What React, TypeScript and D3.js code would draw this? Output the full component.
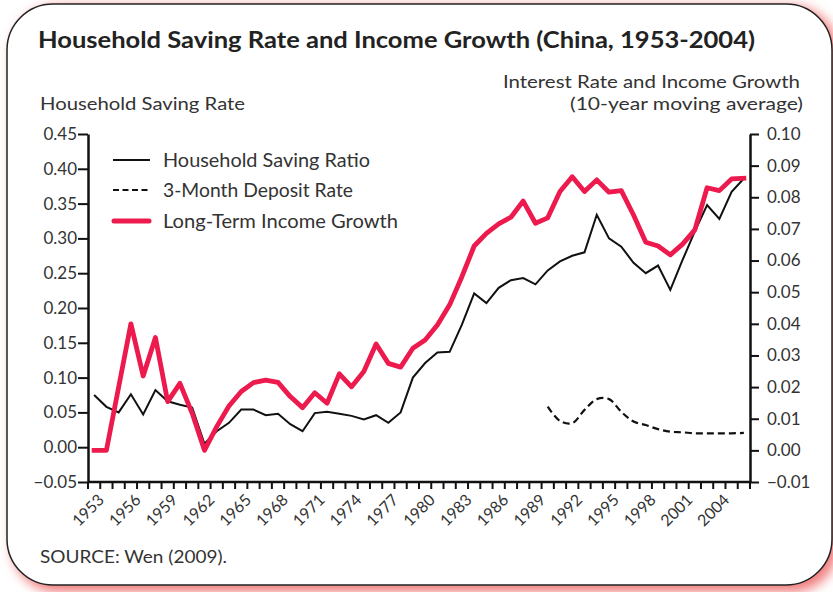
import React, { useEffect, useRef } from 'react';
import * as d3 from 'd3';

// years on the category axis
const years = d3.range(1953, 2007);
const labelYears = [1953, 1956, 1959, 1962, 1965, 1968, 1971, 1974, 1977, 1980, 1983, 1986, 1989, 1992, 1995, 1998, 2001, 2004];

// household saving ratio (left axis)
const savingRatio = [
  0.075, 0.058, 0.050, 0.076, 0.047, 0.082, 0.066, 0.061, 0.057, 0.005,
  0.023, 0.035, 0.054, 0.054, 0.046, 0.048, 0.033, 0.023, 0.049, 0.051,
  0.048, 0.045, 0.040, 0.046, 0.035, 0.050, 0.100, 0.121, 0.136, 0.137,
  0.176, 0.221, 0.207, 0.229, 0.240, 0.243, 0.234, 0.254, 0.267, 0.275,
  0.280, 0.334, 0.300, 0.288, 0.265, 0.250, 0.261, 0.226, 0.269, 0.310,
  0.348, 0.328, 0.367, 0.386,
];

// long-term income growth (right axis)
const incomeGrowth = [
  0, 0, 0.020, 0.040, 0.0235, 0.0357, 0.0154, 0.0212, 0.0117, 0,
  0.0075, 0.014, 0.0186, 0.0214, 0.0222, 0.0215, 0.0170, 0.0135, 0.0182, 0.0149,
  0.0242, 0.0201, 0.0249, 0.0336, 0.0275, 0.0263, 0.0323, 0.0349, 0.0396, 0.046,
  0.0549, 0.0646, 0.0686, 0.0716, 0.0737, 0.0788, 0.0718, 0.0735, 0.0818, 0.0865,
  0.0818, 0.0855, 0.0816, 0.0821, 0.0744, 0.0658, 0.0646, 0.0618, 0.0652, 0.0697,
  0.0830, 0.0821, 0.0858, 0.0860,
];

// 3-month deposit rate (right axis), 1990 onward
const depositYears = d3.range(1990, 2007);
const depositRate = [
  0.0138, 0.0093, 0.0086, 0.0128, 0.0162, 0.0162, 0.0122, 0.0091, 0.0080,
  0.0067, 0.0059, 0.0057, 0.0054, 0.0054, 0.0054, 0.0054, 0.0055,
];

const leftTicks = [-0.05, 0, 0.05, 0.1, 0.15, 0.2, 0.25, 0.3, 0.35, 0.4, 0.45];
const rightTicks = [-0.01, 0, 0.01, 0.02, 0.03, 0.04, 0.05, 0.06, 0.07, 0.08, 0.09, 0.1];

const RED = '#ec1a4d';
const FONT = 'Lato, "Noto Sans", sans-serif';

const App = () => {
  const leftRef = useRef<SVGGElement>(null);
  const rightRef = useRef<SVGGElement>(null);

  const left = 88, right = 750, top = 134, bottom = 482;

  const x = d3.scaleBand<number>().domain(years).range([left, right]).padding(0);
  const cx = (yr: number) => (x(yr) as number) + x.bandwidth() / 2;
  const yL = d3.scaleLinear().domain([-0.05, 0.45]).range([bottom, top]);
  const yR = d3.scaleLinear().domain([-0.01, 0.1]).range([bottom, top]);

  const savingLine = d3.line<number>().x((_, i) => cx(years[i])).y(d => yL(d));
  const incomeLine = d3.line<number>().x((_, i) => cx(years[i])).y(d => yR(d));
  const depositLine = d3.line<number>()
    .x((_, i) => cx(depositYears[i]))
    .y(d => yR(d))
    .curve(d3.curveCatmullRom);

  useEffect(() => {
    const fmt = d3.format('.2f');
    const la = d3.select(leftRef.current);
    la.selectAll('*').remove();
    la.call(d3.axisLeft(yL).tickValues(leftTicks).tickFormat(d => fmt(d as number)).tickSize(10).tickPadding(1).tickSizeOuter(0));
    const ra = d3.select(rightRef.current);
    ra.selectAll('*').remove();
    ra.call(d3.axisRight(yR).tickValues(rightTicks).tickFormat(d => fmt(d as number)).tickSize(9).tickPadding(8).tickSizeOuter(0));
    [la, ra].forEach(g => {
      g.select('.domain').attr('stroke', '#111').attr('stroke-width', 2.5);
      g.selectAll('.tick line').attr('stroke', '#111').attr('stroke-width', 2);
      g.selectAll('.tick text').attr('font-family', FONT).attr('font-size', 17).attr('fill', '#333');
    });
  }, []);

  const boundaries = d3.range(0, years.length + 1).map(i => left + i * x.bandwidth());

  return (
    <svg width={833} height={592} style={{ position: 'absolute', left: 0, top: 0 }} fontFamily={FONT}>
      <defs>
        <filter id="glow" x="-10%" y="-10%" width="120%" height="120%">
          <feGaussianBlur stdDeviation="6" />
        </filter>
      </defs>
      <rect x={0} y={0} width={833} height={592} fill="#fff" />
      <rect x={12} y={6} width={826} height={586} rx={46} fill="#f07c7c" filter="url(#glow)" />
      <rect x={7} y={4} width={825} height={581} rx={46} fill="#fff" stroke="#222" strokeWidth={1.5} />

      <text x={38} y={48} fontSize={22.5} fontWeight="bold" fill="#222" textLength={717} lengthAdjust="spacingAndGlyphs">
        Household Saving Rate and Income Growth (China, 1953-2004)
      </text>
      <text x={40} y={110} fontSize={17} fill="#333" textLength={205} lengthAdjust="spacingAndGlyphs">Household Saving Rate</text>
      <text x={800} y={88} fontSize={17} fill="#333" textAnchor="end" textLength={297} lengthAdjust="spacingAndGlyphs">Interest Rate and Income Growth</text>
      <text x={803} y={110} fontSize={17} fill="#333" textAnchor="end" textLength={233} lengthAdjust="spacingAndGlyphs">(10-year moving average)</text>

      {/* x axis */}
      <line x1={left} x2={right} y1={bottom} y2={bottom} stroke="#111" strokeWidth={2.5} />
      {boundaries.map((bx, i) => (
        <line key={i} x1={bx} x2={bx} y1={bottom} y2={bottom + 7} stroke="#111" strokeWidth={2} />
      ))}
      {labelYears.map(yr => (
        <text key={yr} fontSize={16} fill="#333" textAnchor="end"
          transform={`translate(${cx(yr) + 11},${bottom + 19}) rotate(-45)`}>{yr}</text>
      ))}

      <g ref={leftRef} transform={`translate(${left},0)`} />
      <g ref={rightRef} transform={`translate(${right},0)`} />

      <path d={depositLine(depositRate) || ''} fill="none" stroke="#111" strokeWidth={2.2} strokeDasharray="7,4" />
      <path d={savingLine(savingRatio) || ''} fill="none" stroke="#111" strokeWidth={2} strokeLinejoin="miter" />
      <path d={incomeLine(incomeGrowth) || ''} fill="none" stroke={RED} strokeWidth={4.8} strokeLinejoin="round" strokeLinecap="square" />

      {/* legend */}
      <line x1={113} x2={150} y1={160} y2={160} stroke="#111" strokeWidth={2} />
      <line x1={113} x2={150} y1={190} y2={190} stroke="#111" strokeWidth={2.2} strokeDasharray="6,3.5" />
      <line x1={114} x2={149} y1={221} y2={221} stroke={RED} strokeWidth={5} strokeLinecap="round" />
      <text x={163} y={167} fontSize={19} fill="#333" textLength={207} lengthAdjust="spacingAndGlyphs">Household Saving Ratio</text>
      <text x={163} y={197} fontSize={19} fill="#333" textLength={190} lengthAdjust="spacingAndGlyphs">3-Month Deposit Rate</text>
      <text x={163} y={228} fontSize={19} fill="#333" textLength={235} lengthAdjust="spacingAndGlyphs">Long-Term Income Growth</text>

      <text x={40} y={563} fontSize={17.5} fill="#333" textLength={187} lengthAdjust="spacingAndGlyphs">SOURCE: Wen (2009).</text>
    </svg>
  );
};

export default App;
